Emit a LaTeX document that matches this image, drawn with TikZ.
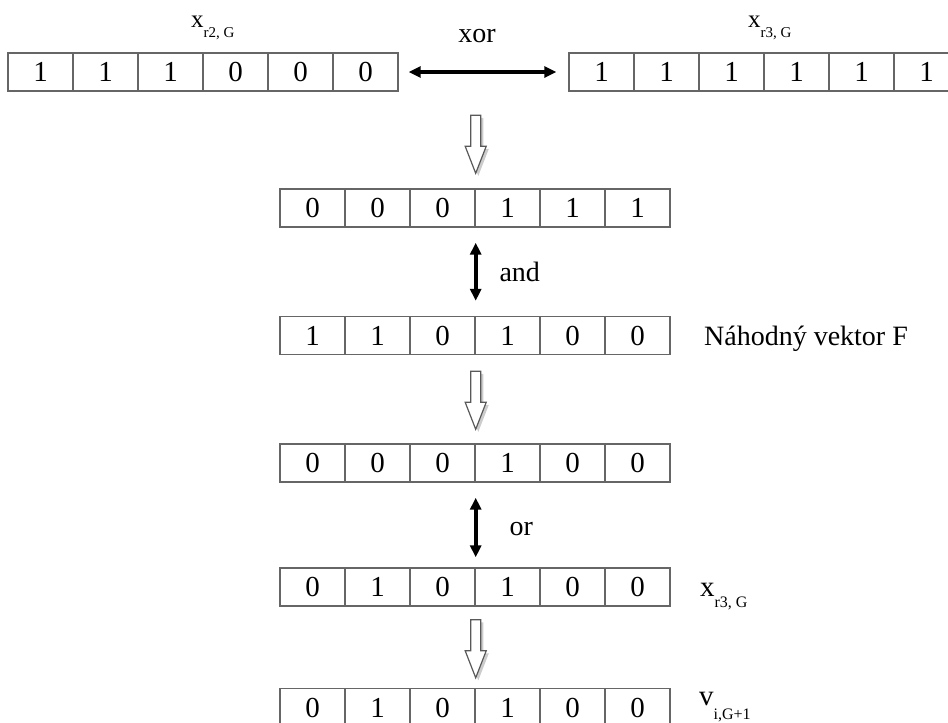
\documentclass[tikz,border=0pt]{standalone}
\usepackage{fontspec}
\setmainfont{Liberation Serif}
\usetikzlibrary{arrows.meta, calc, shadows}

\tikzset{
  cell/.style={draw=black!60, line width=0.7pt, minimum width=32.5pt, minimum height=19pt, inner sep=0pt, font=\fontsize{14.5}{14.5}\selectfont},
  link/.style={line width=1.8pt, {Triangle[length=6pt,width=5.5pt]}-{Triangle[length=6pt,width=5.5pt]}},
  hollow/.style={draw=black!65, line width=0.6pt, fill=white, drop shadow={shadow xshift=1.3pt, shadow yshift=-1.3pt, opacity=0.4}},
  opname/.style={font=\fontsize{14}{14}\selectfont, inner sep=0pt},
  vecname/.style={inner sep=0pt}
}

\newcommand{\bitrow}[4]{%
  \foreach \b [count=\i] in {#4}
    \node[cell] (#1-\i) at ({#2+65*\i-32.5},#3) {\b};
}
\newcommand{\veclbl}[5]{{\fontsize{#1}{#1}\selectfont #2}\raisebox{-#4}{\fontsize{#3}{#3}\selectfont #5}}
\newcommand{\hollowarrow}[2]{%
  \draw[hollow] ($(#1-3.north east)+(0,-#2)$) -- ++(10.5,-27) -- ++(-5.5,0) -- ++(0,-31)
    -- ++(-10,0) -- ++(0,31) -- ++(-5.5,0) -- cycle;
}

\begin{document}
\begin{tikzpicture}[x=0.5pt, y=-0.5pt]
  \path[use as bounding box, clip] (0,0) rectangle (948,723);

  \bitrow{xa}{8}{72}{1,1,1,0,0,0}
  \bitrow{xb}{569}{72}{1,1,1,1,1,1}
  \bitrow{ra}{280}{208}{0,0,0,1,1,1}
  \bitrow{rb}{280}{335.5}{1,1,0,1,0,0}
  \bitrow{rc}{280}{463}{0,0,0,1,0,0}
  \bitrow{rd}{280}{587}{0,1,0,1,0,0}
  \bitrow{re}{280}{707.5}{0,1,0,1,0,0}

  \node[vecname, anchor=base] (lblxa) at ($(xa-3.north east)+(9,-25)$) {\veclbl{12.5}{x}{7.5}{5pt}{r2, G}};
  \node[vecname, anchor=base] (lblxb) at ($(xb-3.north east)+(5,-25)$) {\veclbl{12.5}{x}{7.5}{5pt}{r3, G}};
  \node[opname, anchor=base west] (lblf) at ($(rb-6.east)+(33,9.5)$) {Náhodný vektor F};
  \node[vecname, anchor=base west] (lblxr) at ($(rd-6.east)+(29,9)$) {\veclbl{14.5}{x}{8}{5.5pt}{r3, G}};
  \node[vecname, anchor=base west] (lblv) at ($(re-6.east)+(28,-2.5)$) {\veclbl{14.5}{v}{8}{7pt}{i,G+1}};

  \draw[link, shorten <=5pt, shorten >=6pt] (xa-6.east) -- node[opname, above=13.5pt, xshift=-3.25pt] (opxor) {xor} (xb-1.west);
  \draw[link, shorten <=7.5pt, shorten >=7.5pt] (ra-3.south east) -- node[opname, anchor=base west, xshift=11pt, yshift=-5pt] (opand) {and} (rb-3.north east);
  \draw[link, shorten <=7.5pt, shorten >=5pt] (rc-3.south east) -- node[opname, anchor=base west, xshift=16pt, yshift=-5pt] (opor) {or} (rd-3.north east);

  \hollowarrow{ra}{15}
  \hollowarrow{rc}{14}
  \hollowarrow{re}{10}
\end{tikzpicture}
\end{document}
